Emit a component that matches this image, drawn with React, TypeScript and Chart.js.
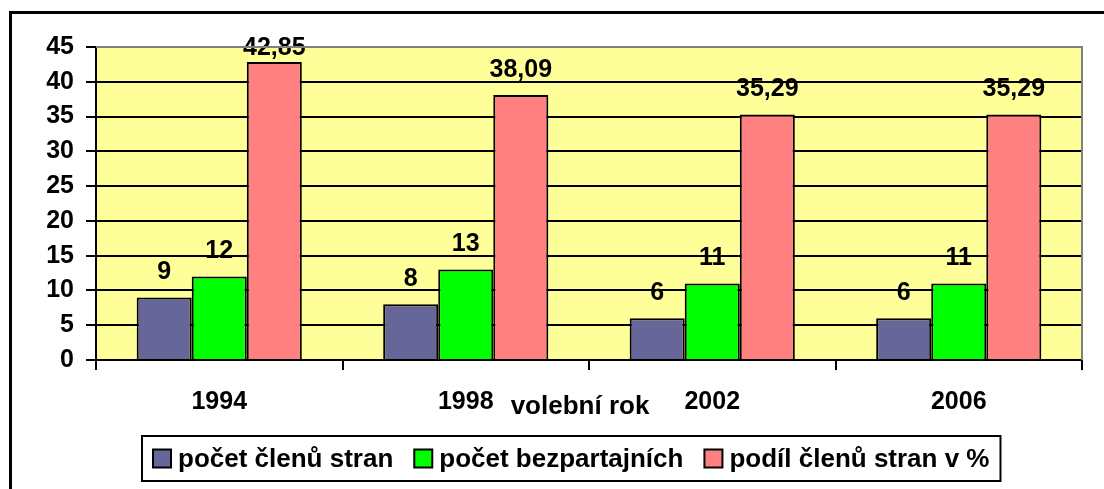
import React, { useEffect, useRef } from 'react';
import { Chart, registerables } from 'chart.js';

Chart.register(...registerables);

const categories = ['1994', '1998', '2002', '2006'];
const seriesNames = ['počet členů stran', 'počet bezpartajních', 'podíl členů stran v %'];
const clenoveStran = [9, 8, 6, 6];
const bezpartajni = [12, 13, 11, 11];
const podilClenu = [42.85, 38.09, 35.29, 35.29];
const seriesColors = ['#666699', '#00FF00', '#FF8080'];
const yMin = 0;
const yMax = 45;
const yStep = 5;
const xTitle = 'volební rok';

const FONT = 'Arial, "Liberation Sans", sans-serif';
const PLOT_BG = '#FFFF99';

const fmt = (v: number) => String(v).replace('.', ',');

const bgPlugin = {
  id: 'plotBg',
  beforeDraw(chart: any) {
    const { ctx, chartArea: a } = chart;
    ctx.save();
    ctx.fillStyle = PLOT_BG;
    ctx.fillRect(a.left, a.top, a.right - a.left, a.bottom - a.top);
    ctx.restore();
  },
};

const labelsPlugin = {
  id: 'barLabels',
  afterDatasetsDraw(chart: any) {
    const { ctx } = chart;
    ctx.save();
    ctx.font = `bold 25px ${FONT}`;
    ctx.fillStyle = '#000';
    ctx.textAlign = 'center';
    ctx.textBaseline = 'middle';
    chart.data.datasets.forEach((ds: any, i: number) => {
      const meta = chart.getDatasetMeta(i);
      meta.data.forEach((el: any, j: number) => {
        const y = Math.max(el.y - 25, 48);
        ctx.fillText(fmt(ds.data[j]), el.x, y);
      });
    });
    ctx.restore();
  },
};

const framePlugin = {
  id: 'frame',
  afterDraw(chart: any) {
    const { ctx, chartArea: a } = chart;
    ctx.save();
    // gray top/right plot border
    ctx.strokeStyle = '#808080';
    ctx.lineWidth = 2;
    ctx.beginPath();
    ctx.moveTo(a.left, a.top);
    ctx.lineTo(a.right, a.top);
    ctx.lineTo(a.right, a.bottom);
    ctx.stroke();
    // outer chart border
    ctx.strokeStyle = '#000';
    ctx.lineWidth = 3;
    ctx.strokeRect(10.5, 12.5, 1300, 700);

    // x axis title
    ctx.fillStyle = '#000';
    ctx.font = `bold 26px ${FONT}`;
    ctx.textAlign = 'center';
    ctx.textBaseline = 'middle';
    ctx.fillText(xTitle, (a.left + a.right) / 2 - 9, 407);

    // legend
    ctx.font = `bold 26px ${FONT}`;
    ctx.textBaseline = 'middle';
    ctx.textAlign = 'left';
    const sq = 18;
    const gapSqText = 7;
    const gapItems = 21;
    const padX = 11;
    const widths = seriesNames.map((n) => ctx.measureText(n).width);
    let total = padX * 2;
    widths.forEach((w, i) => {
      total += sq + gapSqText + w + (i < widths.length - 1 ? gapItems : 0);
    });
    const cx = 571.5;
    const boxLeft = Math.round(cx - total / 2);
    const boxTop = 436;
    const boxH = 45;
    ctx.lineWidth = 2;
    ctx.strokeStyle = '#000';
    ctx.fillStyle = '#fff';
    ctx.fillRect(boxLeft, boxTop, total, boxH);
    ctx.strokeRect(boxLeft, boxTop, total, boxH);
    let x = boxLeft + padX;
    const midY = boxTop + boxH / 2;
    seriesNames.forEach((n, i) => {
      ctx.fillStyle = seriesColors[i];
      ctx.fillRect(x, midY - sq / 2, sq, sq);
      ctx.lineWidth = 2;
      ctx.strokeRect(x, midY - sq / 2, sq, sq);
      ctx.fillStyle = '#000';
      ctx.fillText(n, x + sq + gapSqText, midY + 1);
      x += sq + gapSqText + widths[i] + gapItems;
    });
    ctx.restore();
  },
};

export default function App() {
  const ref = useRef<HTMLCanvasElement | null>(null);

  useEffect(() => {
    if (!ref.current) return;
    const chart = new Chart(ref.current, {
      type: 'bar',
      data: {
        labels: categories,
        datasets: [
          { label: seriesNames[0], data: clenoveStran, backgroundColor: seriesColors[0], borderColor: '#000', borderWidth: 2 },
          { label: seriesNames[1], data: bezpartajni, backgroundColor: seriesColors[1], borderColor: '#000', borderWidth: 2 },
          { label: seriesNames[2], data: podilClenu, backgroundColor: seriesColors[2], borderColor: '#000', borderWidth: 2 },
        ],
      },
      options: {
        animation: false,
        responsive: true,
        maintainAspectRatio: false,
        layout: { padding: { top: 47, right: 22, bottom: 0, left: 0 } },
        datasets: { bar: { categoryPercentage: 0.67, barPercentage: 1 } },
        plugins: {
          legend: { display: false },
          tooltip: { enabled: false },
        },
        scales: {
          x: {
            grid: {
              offset: true,
              drawOnChartArea: false,
              drawTicks: true,
              tickLength: 10,
              color: '#000',
              lineWidth: 2,
            },
            border: { display: true, color: '#000', width: 2 },
            ticks: {
              color: '#000',
              font: { family: FONT, size: 25, weight: 'bold' },
              padding: 17,
              maxRotation: 0,
            },
            afterFit(scale: any) {
              scale.height = 129;
            },
          },
          y: {
            min: yMin,
            max: yMax,
            ticks: {
              stepSize: yStep,
              color: '#000',
              font: { family: FONT, size: 25, weight: 'bold' },
              padding: 12,
            },
            grid: {
              color: (c: any) => (c.tick && c.tick.value === yMax ? '#808080' : '#000'),
              tickColor: '#000',
              lineWidth: 2,
              tickLength: 10,
              drawTicks: true,
            },
            border: { display: true, color: '#000', width: 2 },
            afterFit(scale: any) {
              scale.width = 96;
            },
          },
        },
      },
      plugins: [bgPlugin, labelsPlugin, framePlugin],
    } as any);
    return () => chart.destroy();
  }, []);

  return (
    <div style={{ position: 'fixed', left: 0, top: 0, width: 1104, height: 489, background: '#fff' }}>
      <canvas ref={ref} />
    </div>
  );
}
